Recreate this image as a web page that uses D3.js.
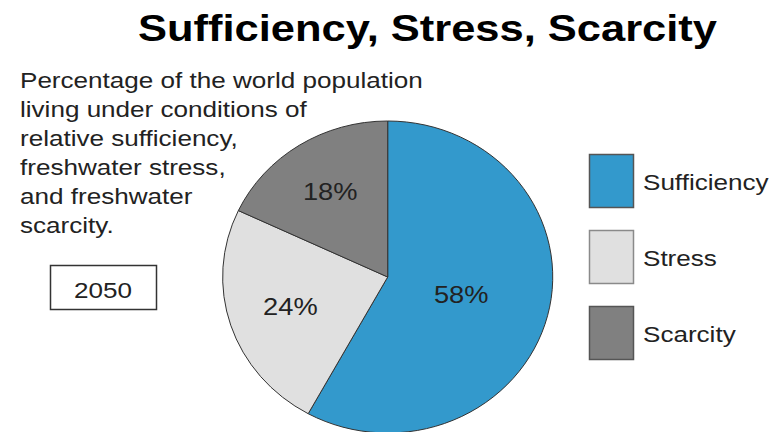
<!DOCTYPE html>
<html>
<head>
<meta charset="utf-8">
<script src="https://cdn.jsdelivr.net/npm/d3@7"></script>
<style>
  html, body { margin: 0; padding: 0; background: #fff; }
  svg { display: block; }
  text { font-family: "Liberation Sans", Arial, Helvetica, sans-serif; fill: #111; }
</style>
</head>
<body>
<svg id="chart" width="778" height="432"></svg>
<script>
// ---- data ----
const categories = ["Sufficiency", "Stress", "Scarcity"];
const values = [58, 24, 18];
const valueLabels = ["58%", "24%", "18%"];
const colors = ["#3399cc", "#e0e0e0", "#808080"];
const titleText = "Sufficiency, Stress, Scarcity";
const descriptionLines = [
  "Percentage of the world population",
  "living under conditions of",
  "relative sufficiency,",
  "freshwater stress,",
  "and freshwater",
  "scarcity."
];
const yearLabel = "2050";

// ---- layout ----
const W = 778, H = 432;
const svg = d3.select("#chart");
svg.append("rect").attr("width", W).attr("height", H).attr("fill", "#fff");

// Title (horizontally stretched like the reference)
const title = svg.append("text")
  .attr("x", 0).attr("y", 0)
  .attr("font-size", 37).attr("font-weight", "bold")
  .attr("text-anchor", "middle")
  .style("fill", "#000")
  .text(titleText);
const tW = title.node().getComputedTextLength();
const tsx = 579 / tW;
title.attr("transform", `translate(427.5,40.5) scale(${tsx},1)`);

// Description lines
const descG = svg.append("g");
const descTexts = descG.selectAll("text").data(descriptionLines).join("text")
  .attr("font-size", 22)
  .style("fill", "#222")
  .text(d => d);
const firstW = descTexts.nodes()[0].getComputedTextLength();
const sx = 403 / firstW;
descTexts.attr("transform", (d, i) => `translate(20,${88 + i * 29}) scale(${sx},1)`);

// Year box
svg.append("rect")
  .attr("x", 50.5).attr("y", 265.5).attr("width", 106).attr("height", 44)
  .attr("fill", "#fff").attr("stroke", "#333").attr("stroke-width", 1.5);
svg.append("text")
  .attr("text-anchor", "middle").attr("font-size", 22)
  .attr("transform", `translate(103,297.5) scale(${sx},1)`)
  .style("fill", "#222")
  .text(yearLabel);

// Pie (slightly elliptical like the reference)
const cx = 387.7, cy = 277, R = 156, pieSx = 1.058;
const pie = d3.pie().sort(null).value(d => d)(values);
const arc = d3.arc().innerRadius(0).outerRadius(R);
const pieG = svg.append("g").attr("transform", `translate(${cx},${cy}) scale(${pieSx},1)`);
pieG.selectAll("path").data(pie).join("path")
  .attr("d", arc)
  .attr("fill", (d, i) => colors[i])
  .attr("stroke", "#333")
  .attr("stroke-width", 1)
  .attr("vector-effect", "non-scaling-stroke");

// Slice labels
const labelRadiusFactor = [0.46, 0.62, 0.65];
pie.forEach((d, i) => {
  const la = d3.arc().innerRadius(R * labelRadiusFactor[i]).outerRadius(R * labelRadiusFactor[i]);
  const [lx, ly] = la.centroid(d);
  svg.append("text")
    .attr("text-anchor", "middle")
    .attr("font-size", 23)
    .attr("dominant-baseline", "central")
    .attr("transform", `translate(${cx + lx * pieSx},${cy + ly}) scale(${sx},1)`)
    .style("fill", "#222")
    .text(valueLabels[i]);
});

// Legend
const legendY = d3.scalePoint().domain(categories).range([181, 333]);
const leg = svg.append("g");
categories.forEach((c, i) => {
  const y = legendY(c);
  leg.append("rect")
    .attr("x", 589.5).attr("y", y - 26.5).attr("width", 44).attr("height", 53)
    .attr("fill", colors[i])
    .attr("stroke", i === 1 ? "#8a8a8a" : "#555")
    .attr("stroke-width", 1.5);
  leg.append("text")
    .attr("font-size", 22)
    .attr("dominant-baseline", "central")
    .attr("transform", `translate(643,${y + 1}) scale(${sx},1)`)
    .style("fill", "#222")
    .text(c);
});
</script>
</body>
</html>
